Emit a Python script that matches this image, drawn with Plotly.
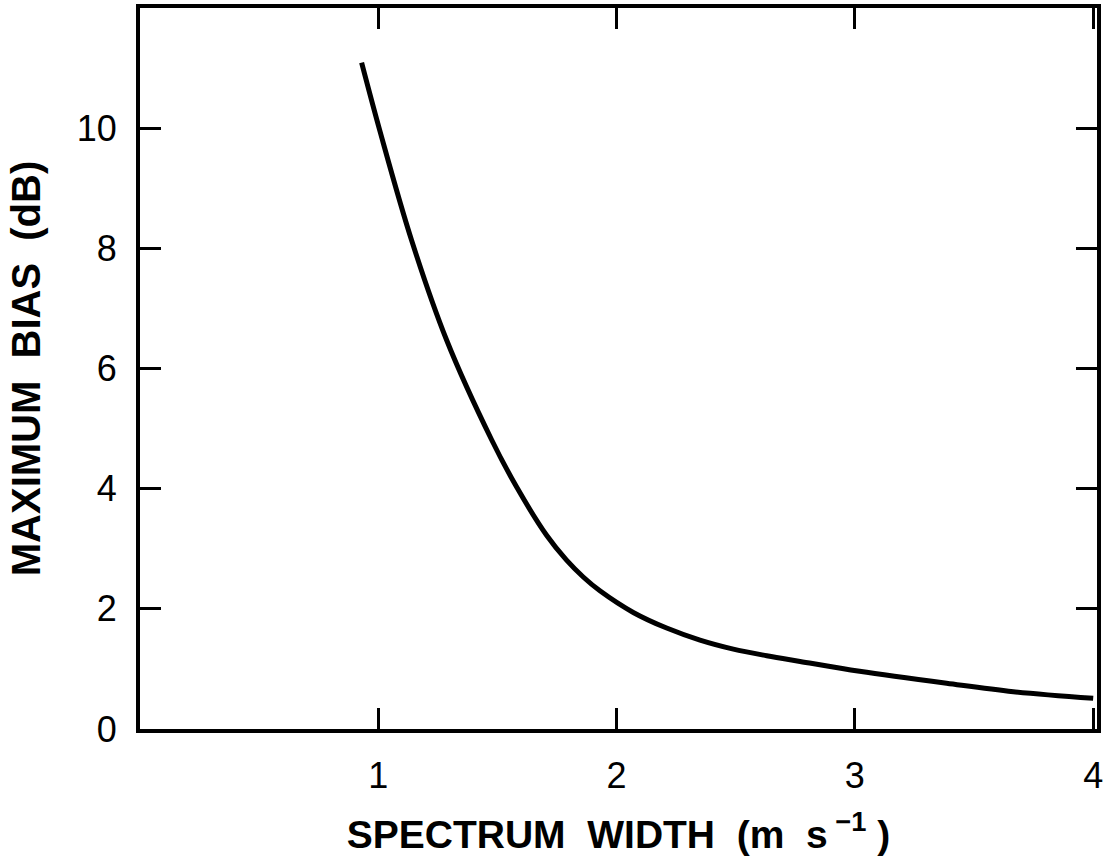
import plotly.graph_objects as go

# Data
spectrum_width = [0.93, 1.007, 1.14, 1.287, 1.476, 1.58, 1.707, 1.79, 1.86, 1.93,
                  2.07, 2.21, 2.35, 2.49, 2.63, 2.77, 3.02, 3.385, 3.665, 4.0]
max_bias_db = [11.09, 9.95, 8.13, 6.47, 4.81, 4.03, 3.22, 2.81, 2.53, 2.30,
               1.94, 1.68, 1.48, 1.33, 1.22, 1.125, 0.96, 0.76, 0.62, 0.51]

x_ticks = [1, 2, 3, 4]
y_ticks = [0, 2, 4, 6, 8, 10]

FONT = "Liberation Sans, Arial, Helvetica, sans-serif"
NB = "\u00a0"

fig = go.Figure()
fig.add_trace(go.Scatter(
    x=spectrum_width, y=max_bias_db, mode="lines",
    line=dict(color="black", width=5, shape="spline", smoothing=1.0),
    showlegend=False, hoverinfo="skip",
))

axis_common = dict(
    showgrid=False, zeroline=False, showline=True, linecolor="black", linewidth=4,
    mirror="ticks", ticks="inside", ticklen=21, tickwidth=3, tickcolor="black",
    tickfont=dict(family=FONT, size=36, color="black"),
)

fig.update_xaxes(
    range=[0, 4.016], tickvals=x_ticks, ticktext=[str(v) for v in x_ticks],
    ticklabelstandoff=12,
    title=dict(text=f"SPECTRUM{NB}{NB}WIDTH{NB}{NB}(m{NB}{NB}s<sup>{NB}−1</sup>{NB})",
               font=dict(family=FONT, size=39, color="black", weight="bold"), standoff=26),
    **axis_common,
)
fig.update_yaxes(
    range=[0, 12], tickvals=y_ticks, ticktext=[str(v) for v in y_ticks],
    ticklabelstandoff=12,
    title=dict(text=f"MAXIMUM{NB}{NB}BIAS{NB}{NB}(dB)",
               font=dict(family=FONT, size=40, color="black", weight="bold"), standoff=25),
    **axis_common,
)

fig.update_layout(
    width=1110, height=861,
    margin=dict(l=140, r=13, t=8, b=132, autoexpand=False),
    paper_bgcolor="white", plot_bgcolor="white",
)

fig.write_html("out.html")
